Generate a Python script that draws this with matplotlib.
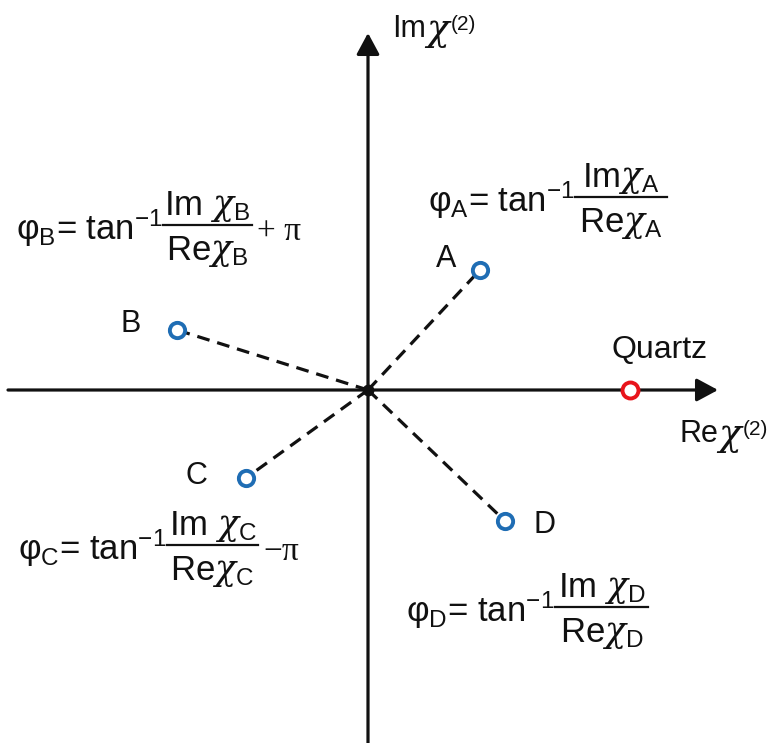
import matplotlib.pyplot as plt

plt.rcParams['font.family'] = ['Liberation Sans', 'DejaVu Sans']
plt.rcParams['mathtext.fontset'] = 'custom'
plt.rcParams['mathtext.rm'] = 'Liberation Sans'
plt.rcParams['mathtext.it'] = 'DejaVu Serif:italic'
plt.rcParams['mathtext.bf'] = 'Liberation Sans:bold'

# samples in the complex chi(2) plane (arbitrary units)
labels = ['A', 'B', 'C', 'D']
re_chi = [1.12, -1.91, -1.22, 1.37]
im_chi = [1.20, 0.60, -0.88, -1.31]
quartz_re = 2.62
quartz_im = 0.0

# phase formula pieces: prefix, numerator, denominator, suffix
prefixes = [r'φ$_{\rm %s}$= tan$^{\rm {-}1}$' % s for s in labels]
numerators = [r'Im$\chi_{\rm A}$', r'Im $\chi_{\rm B}$', r'Im $\chi_{\rm C}$', r'Im $\chi_{\rm D}$']
denominators = [r'Re$\chi_{\rm %s}$' % s for s in labels]
suffixes = ['', '+ π', '−π', '']

# axis label pieces
axis_names = ['Im', 'Re']

fig = plt.figure(figsize=(7.83, 7.43), dpi=100)
ax = fig.add_axes([0, 0, 1, 1])
ax.set_xlim(-3.68, 4.15)
ax.set_ylim(-3.53, 3.90)
ax.axis('off')

# axes with arrows
arrow = dict(arrowstyle='-|>,head_length=1.3,head_width=0.7',
             lw=2.3, color='#111111', shrinkA=0, shrinkB=0)
ax.annotate('', xy=(3.50, 0), xytext=(-3.60, 0), arrowprops=arrow)
ax.annotate('', xy=(0, 3.57), xytext=(0, -3.53), arrowprops=arrow)
ax.plot([0], [0], 'o', color='#111111', ms=7.5)

# dashed lines from origin to each sample
for x, y in zip(re_chi, im_chi):
    ax.plot([0, x], [0, y], '--', color='#111111', lw=2.3, dashes=(4, 2.5))

ax.plot(re_chi, im_chi, 'o', ms=11, mfc='white', mec='#1f6db4', mew=2.8, zorder=5)
ax.plot([quartz_re], [quartz_im], 'o', ms=11.5, mfc='white', mec='#e8141b', mew=2.8, zorder=5)

# point letters
offsets = [(-0.34, 0.11), (-0.46, 0.06), (-0.50, 0.02), (0.40, -0.04)]
for lab, x, y, (dx, dy) in zip(labels, re_chi, im_chi, offsets):
    ax.text(x + dx, y + dy, lab, fontsize=22, ha='center', va='center', color='#111111')
ax.text(quartz_re + 0.30, 0.40, 'Quartz', fontsize=23, ha='center', va='center', color='#111111')

# axis labels: name, big chi, superscript (2) placed right after the chi
renderer = fig.canvas.get_renderer()
label_pos = [(0.24, 3.53), (3.12, -0.52)]
chi_gap = [0.34, 0.38]
for name, (lx, ly), g in zip(axis_names, label_pos, chi_gap):
    ax.text(lx, ly, name, fontsize=22, ha='left', va='baseline', color='#111111')
    chi = ax.text(lx + g, ly - 0.03, 'χ', fontsize=27, ha='left', va='baseline',
                  color='#111111', family=['DejaVu Serif'], style='italic')
    bb = chi.get_window_extent(renderer).transformed(ax.transData.inverted())
    ax.text(bb.x1 + 0.02, ly + 0.07, '(2)', fontsize=15, ha='left', va='baseline', color='#111111')

# phase formulas: fraction bar left end, bar y, bar length
bars = [(2.07, 1.93, 0.92), (-2.05, 1.65, 0.89), (-2.01, -1.55, 0.91), (1.87, -2.17, 0.93)]
for pre, num, den, suf, (bx, by, bw) in zip(prefixes, numerators, denominators, suffixes, bars):
    ax.plot([bx, bx + bw], [by, by], color='#111111', lw=1.6)
    ax.text(bx, by - 0.15, pre, fontsize=25, ha='right', va='baseline', color='#111111')
    ax.text(bx + bw / 2, by + 0.10, num, fontsize=25, ha='center', va='baseline', color='#111111')
    ax.text(bx + bw / 2, by - 0.35, den, fontsize=25, ha='center', va='baseline', color='#111111')
    if suf:
        ax.text(bx + bw + 0.05, by - 0.15, suf, fontsize=24, ha='left', va='baseline',
                color='#111111', family=['Liberation Serif', 'DejaVu Serif'])

fig.savefig('out.png', dpi=100)
